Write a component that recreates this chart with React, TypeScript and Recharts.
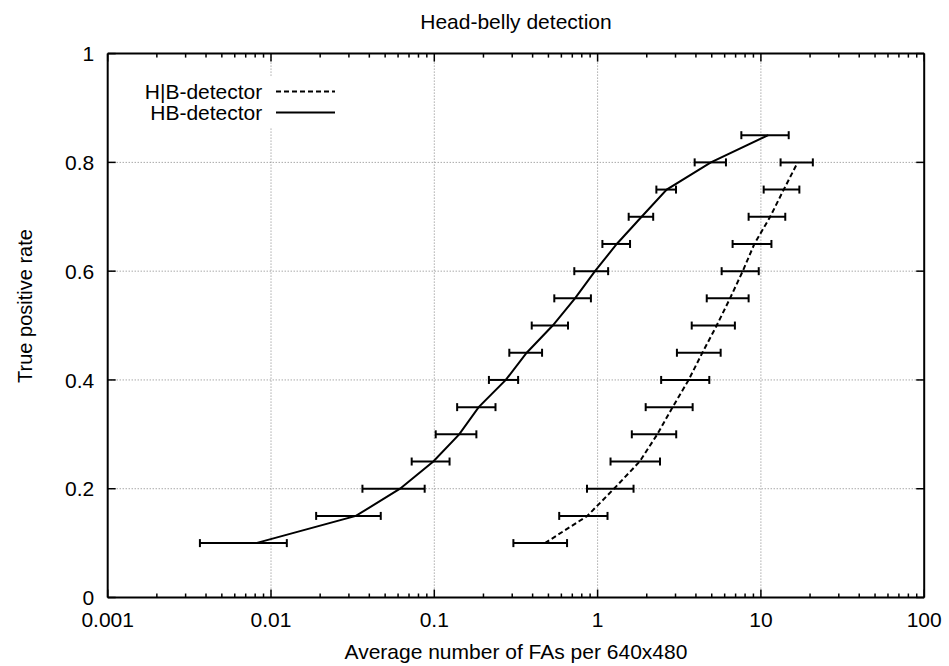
import React from 'react';
import { ScatterChart, Scatter, XAxis, YAxis, CartesianGrid, ErrorBar, Legend } from 'recharts';

// True positive rate levels
const hbLevels = [0.1, 0.15, 0.2, 0.25, 0.3, 0.35, 0.4, 0.45, 0.5, 0.55, 0.6, 0.65, 0.7, 0.75, 0.8, 0.85];
// HB-detector: average FAs per 640x480 (center, low, high)
const hbRate = [0.0081, 0.0331, 0.0617, 0.0986, 0.142, 0.187, 0.274, 0.368, 0.531, 0.727, 0.964, 1.31, 1.86, 2.65, 4.94, 11.1];
const hbLow = [0.00367, 0.0189, 0.0363, 0.0727, 0.102, 0.138, 0.216, 0.288, 0.395, 0.543, 0.72, 1.07, 1.55, 2.29, 3.93, 7.59];
const hbHigh = [0.0125, 0.047, 0.0873, 0.124, 0.181, 0.237, 0.326, 0.457, 0.659, 0.91, 1.16, 1.58, 2.19, 3.02, 6.11, 14.8];

const hbarLevels = [0.1, 0.15, 0.2, 0.25, 0.3, 0.35, 0.4, 0.45, 0.5, 0.55, 0.6, 0.65, 0.7, 0.75, 0.8];
// H|B-detector
const hbarRate = [0.476, 0.865, 1.26, 1.81, 2.32, 2.88, 3.61, 4.38, 5.36, 6.47, 7.74, 9.12, 11.4, 13.8, 16.8];
const hbarLow = [0.305, 0.582, 0.861, 1.2, 1.62, 1.97, 2.45, 3.06, 3.77, 4.66, 5.75, 6.71, 8.41, 10.4, 13.2];
const hbarHigh = [0.65, 1.15, 1.66, 2.41, 3.03, 3.82, 4.83, 5.67, 6.93, 8.41, 9.7, 11.6, 14.1, 17.2, 20.8];

const xMajorTicks = [0.001, 0.01, 0.1, 1, 10, 100];
const xTickLabels = ['0.001', '0.01', '0.1', '1', '10', '100'];
const xGridValues = [0.01, 0.1, 1, 10];
const yTicks = [0, 0.2, 0.4, 0.6, 0.8, 1];
const yTickLabels = ['0', '0.2', '0.4', '0.6', '0.8', '1'];
const yGridValues = [0.2, 0.4, 0.6, 0.8];

const title = 'Head-belly detection';
const xLabel = 'Average number of FAs per 640x480';
const yLabel = 'True positive rate';
const seriesNames = ['H|B-detector', 'HB-detector'];

const FONT = "'Liberation Sans', Arial, Helvetica, sans-serif";
const FS = 21;

// all tick positions on the log axis (major + minor)
const xAllTicks: number[] = [];
xMajorTicks.forEach((m, i) => {
  xAllTicks.push(m);
  if (i < xMajorTicks.length - 1) {
    for (let k = 2; k <= 9; k++) xAllTicks.push(parseFloat((m * k).toPrecision(6)));
  }
});

const majorIndex = (v: number) => xMajorTicks.findIndex((m) => Math.abs(m - v) < m * 1e-6);

const BottomTick = (props: any) => {
  const { x, y, payload } = props;
  const idx = majorIndex(payload.value);
  const major = idx >= 0;
  return (
    <g>
      <line x1={x} x2={x} y1={y} y2={y - (major ? 8 : 4)} stroke="#000" strokeWidth={1.5} />
      {major && (
        <text x={x} y={y + 29.2} textAnchor="middle" fontSize={FS} fontFamily={FONT} fill="#000">
          {xTickLabels[idx]}
        </text>
      )}
    </g>
  );
};

const TopTick = (props: any) => {
  const { x, y, payload } = props;
  const major = majorIndex(payload.value) >= 0;
  return <line x1={x} x2={x} y1={y} y2={y + (major ? 8 : 4)} stroke="#000" strokeWidth={1.5} />;
};

const LeftTick = (props: any) => {
  const { x, y, payload } = props;
  const idx = yTicks.findIndex((t) => Math.abs(t - payload.value) < 1e-9);
  return (
    <g>
      <line x1={x} x2={x + 8} y1={y} y2={y} stroke="#000" strokeWidth={1.5} />
      <text x={x - 13.4} y={y} dy="0.36em" textAnchor="end" fontSize={FS} fontFamily={FONT} fill="#000">
        {yTickLabels[idx]}
      </text>
    </g>
  );
};

const RightTick = (props: any) => {
  const { x, y } = props;
  return <line x1={x} x2={x - 8} y1={y} y2={y} stroke="#000" strokeWidth={1.5} />;
};

const YLabel = (props: any) => {
  return (
    <text
      x={32}
      y={306}
      transform="rotate(-90, 32, 306)"
      textAnchor="middle"
      fontSize={20}
      fontFamily={FONT}
      fill="#000"
    >
      {yLabel}
    </text>
  );
};

const LegendBox = () => (
  <svg width={215} height={50} style={{ display: 'block', background: '#fff' }}>
    <text x={132.3} y={22} textAnchor="end" fontSize={FS} fontFamily={FONT} fill="#000">
      {seriesNames[0]}
    </text>
    <line x1={146} x2={205} y1={14.5} y2={14.5} stroke="#000" strokeWidth={2} strokeDasharray="5 3" />
    <text x={132.3} y={43} textAnchor="end" fontSize={FS} fontFamily={FONT} fill="#000">
      {seriesNames[1]}
    </text>
    <line x1={146} x2={205} y1={35.5} y2={35.5} stroke="#000" strokeWidth={2} />
  </svg>
);

const Nothing = () => <g />;

export default function App() {
  const hbData = hbLevels.map((t, i) => ({
    x: hbRate[i],
    y: t,
    err: [hbRate[i] - hbLow[i], hbHigh[i] - hbRate[i]],
  }));
  const hbarData = hbarLevels.map((t, i) => ({
    x: hbarRate[i],
    y: t,
    err: [hbarRate[i] - hbarLow[i], hbarHigh[i] - hbarRate[i]],
  }));

  return (
    <div style={{ position: 'absolute', left: 0, top: 0, width: 949, height: 666, background: '#fff' }}>
      <ScatterChart width={949} height={666} margin={{ top: 33.6, right: 14.8, bottom: 0, left: 0 }}>
        <CartesianGrid
          xAxisId={0}
          yAxisId={0}
          stroke="#808080"
          strokeWidth={1}
          strokeDasharray="1 2"
          verticalValues={xGridValues}
          horizontalValues={yGridValues}
        />
        <XAxis
          xAxisId={0}
          dataKey="x"
          type="number"
          scale="log"
          domain={[0.001, 100]}
          allowDataOverflow
          ticks={xAllTicks}
          interval={0}
          tick={<BottomTick />}
          tickLine={false}
          tickSize={0}
          tickMargin={0}
          axisLine={{ stroke: '#000', strokeWidth: 2 }}
          height={68.5}
          label={{ value: xLabel, position: 'insideBottom', offset: 6.7, fontSize: FS, fontFamily: FONT, fill: '#000' }}
        />
        <XAxis
          xAxisId="top"
          orientation="top"
          dataKey="x"
          type="number"
          scale="log"
          domain={[0.001, 100]}
          allowDataOverflow
          ticks={xAllTicks}
          interval={0}
          tick={<TopTick />}
          tickLine={false}
          tickSize={0}
          tickMargin={0}
          axisLine={{ stroke: '#000', strokeWidth: 2 }}
          height={20}
          label={{ value: title, position: 'top', offset: 4.6, fontSize: FS, fontFamily: FONT, fill: '#000' }}
        />
        <YAxis
          yAxisId={0}
          dataKey="y"
          type="number"
          domain={[0, 1]}
          allowDataOverflow
          ticks={yTicks}
          interval={0}
          tick={<LeftTick />}
          tickLine={false}
          tickSize={0}
          tickMargin={0}
          axisLine={{ stroke: '#000', strokeWidth: 2 }}
          width={107.7}
          label={<YLabel />}
        />
        <YAxis
          yAxisId="right"
          orientation="right"
          dataKey="y"
          type="number"
          domain={[0, 1]}
          allowDataOverflow
          ticks={yTicks}
          interval={0}
          tick={<RightTick />}
          tickLine={false}
          tickSize={0}
          tickMargin={0}
          axisLine={{ stroke: '#000', strokeWidth: 2 }}
          width={10}
        />
        <Scatter
          name={seriesNames[0]}
          data={hbarData}
          xAxisId={0}
          yAxisId={0}
          fill="#000"
          line={{ stroke: '#000', strokeWidth: 2, strokeDasharray: '5 3' }}
          lineType="joint"
          shape={<Nothing />}
          isAnimationActive={false}
        >
          <ErrorBar dataKey="err" direction="x" width={4} stroke="#000" strokeWidth={2} isAnimationActive={false} />
        </Scatter>
        <Scatter
          name={seriesNames[1]}
          data={hbData}
          xAxisId={0}
          yAxisId={0}
          fill="#000"
          line={{ stroke: '#000', strokeWidth: 2 }}
          lineType="joint"
          shape={<Nothing />}
          isAnimationActive={false}
        >
          <ErrorBar dataKey="err" direction="x" width={4} stroke="#000" strokeWidth={2} isAnimationActive={false} />
        </Scatter>
        <Legend
          layout="vertical"
          align="center"
          verticalAlign="middle"
          wrapperStyle={{ left: 130, top: 77, width: 215, height: 50 }}
          content={() => <LegendBox />}
        />
      </ScatterChart>
    </div>
  );
}
